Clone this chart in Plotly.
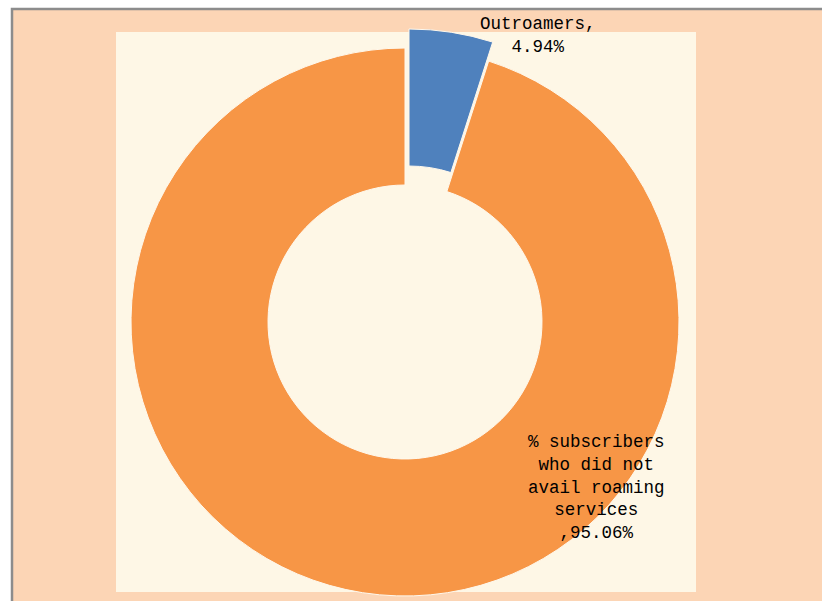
import plotly.graph_objects as go

# data
labels = ["Outroamers", "% subscribers who did not avail roaming services"]
values = [4.94, 95.06]
label_lines = [["Outroamers,"], ["% subscribers", "who did not", "avail roaming", "services"]]

colors = ["#4F81BD", "#F79646"]
W, H = 822, 601


def px_x(x):
    return x / W


def px_y(y):
    return 1 - y / H


# pie centre and radius in pixels
cx, cy, r = 405, 322, 274
# offset of the exploded blue slice
dx, dy = 4, 19

fig = go.Figure()

# orange slice (blue one left transparent, drawn again shifted below)
fig.add_trace(go.Pie(
    labels=labels, values=values, hole=0.5, sort=False, direction="clockwise",
    rotation=0, textinfo="none", hoverinfo="label+percent", showlegend=False,
    marker=dict(colors=["rgba(0,0,0,0)", colors[1]],
                line=dict(color=["rgba(0,0,0,0)", "#FFF8EC"], width=1)),
    domain=dict(x=[px_x(cx - r), px_x(cx + r)], y=[px_y(cy + r), px_y(cy - r)]),
))

# exploded blue slice
fig.add_trace(go.Pie(
    labels=labels, values=values, hole=0.5, sort=False, direction="clockwise",
    rotation=0, textinfo="none", hoverinfo="label+percent", showlegend=False,
    marker=dict(colors=[colors[0], "rgba(0,0,0,0)"],
                line=dict(color=["#FFF8EC", "rgba(0,0,0,0)"], width=1)),
    domain=dict(x=[px_x(cx - r + dx), px_x(cx + r + dx)],
                y=[px_y(cy + r - dy), px_y(cy - r - dy)]),
))

texts = [
    "<br>".join(label_lines[0] + ["%.2f%%" % values[0]]),
    "<br>".join(label_lines[1] + [",%.2f%%" % values[1]]),
]
pos = [(538, 35.5), (596, 487.5)]
annotations = []
for t, (x, y) in zip(texts, pos):
    annotations.append(dict(
        text=t, x=px_x(x), y=px_y(y), xref="paper", yref="paper",
        xanchor="center", yanchor="middle", showarrow=False, align="center",
        font=dict(family="Liberation Mono", size=17.5, color="#000000"),
    ))

shapes = [
    # outer chart area with grey border
    dict(type="rect", xref="paper", yref="paper", layer="below",
         x0=px_x(12), x1=px_x(840), y0=px_y(620), y1=px_y(9),
         fillcolor="#FCD5B5", line=dict(color="#8C8C8C", width=2.5)),
    # plot area
    dict(type="rect", xref="paper", yref="paper", layer="below",
         x0=px_x(116), x1=px_x(696), y0=px_y(592), y1=px_y(32),
         fillcolor="#FEF7E6", line=dict(width=0)),
]

fig.update_layout(
    width=W, height=H,
    margin=dict(l=0, r=0, t=0, b=0),
    paper_bgcolor="#FFFFFF",
    plot_bgcolor="#FFFFFF",
    shapes=shapes,
    annotations=annotations,
)

# page has a default 8px body margin; drop it so the figure fills the window
fig.write_html("out.html", config={"displayModeBar": False},
               post_script="document.body.style.margin='0';")
